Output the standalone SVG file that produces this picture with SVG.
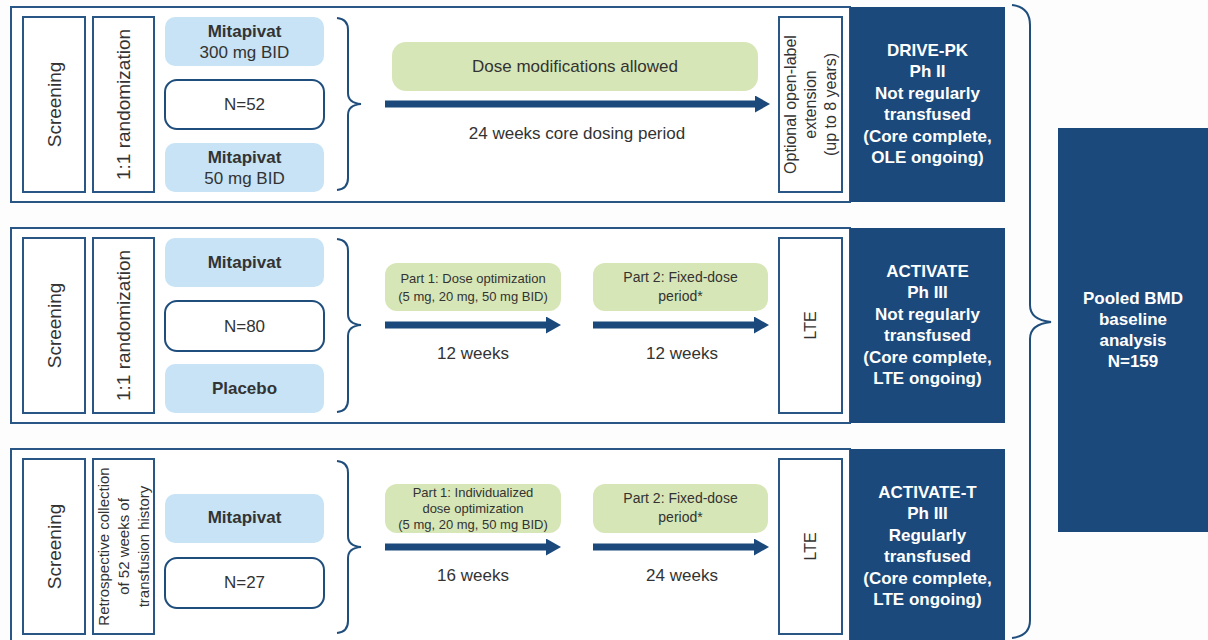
<svg xmlns="http://www.w3.org/2000/svg" width="1208" height="640" viewBox="0 0 1208 640">
<style>
.bg{fill:#fdfdfd}
.frame{fill:#ffffff;stroke:#2a5686;stroke-width:2}
.vbox{fill:#ffffff;stroke:#2a5686;stroke-width:2}
.arm{fill:#c7e3f5}
.nbox{fill:#ffffff;stroke:#1f4e7d;stroke-width:2}
.green{fill:#d7e6b6}
.dark{fill:#1b497b}
.brace{fill:none;stroke:#1f4e7d;stroke-width:2}
.arrow{stroke:#1b497b;stroke-width:7}
.t{font-family:"Liberation Sans",Arial,sans-serif;fill:#333333;text-anchor:middle;dominant-baseline:central}
.t19{font-size:19px}
.t17{font-size:17px}
.t16{font-size:16px}
.t15{font-size:15px}
.t14{font-size:14px}
.t13{font-size:13px}
.b{font-weight:bold}
.w{font-family:"Liberation Sans",Arial,sans-serif;fill:#ffffff;font-weight:bold;font-size:17px;text-anchor:middle;dominant-baseline:central}
</style>
<defs>
<marker id="ah" markerWidth="15" markerHeight="17" refX="0" refY="8.5" orient="auto" markerUnits="userSpaceOnUse">
<path d="M0,0 L15,8.5 L0,17 Z" fill="#1b497b"/>
</marker>
</defs>
<rect class="bg" x="0" y="0" width="1208" height="640"/>

<!-- Row 1: DRIVE-PK -->
<g id="row1-frame"><rect class="frame" x="11" y="7" width="839" height="195"/></g>
<g id="row1-screening"><rect class="vbox" x="23" y="17" width="62" height="175"/><text class="t t19" transform="translate(54,104.5) rotate(-90)">Screening</text></g>
<g id="row1-randomization"><rect class="vbox" x="93" y="17" width="61" height="175"/><text class="t t19" transform="translate(123.5,104.5) rotate(-90)">1:1 randomization</text></g>
<g id="row1-arm300"><rect class="arm" x="165" y="17" width="159" height="49" rx="10"/><text class="t t17 b" x="244.5" y="31">Mitapivat</text><text class="t t17" x="244.5" y="52">300 mg BID</text></g>
<g id="row1-n"><rect class="nbox" x="165" y="80" width="159" height="49" rx="12"/><text class="t t17" x="244.5" y="104.5">N=52</text></g>
<g id="row1-arm50"><rect class="arm" x="165" y="143" width="159" height="49" rx="10"/><text class="t t17 b" x="244.5" y="157">Mitapivat</text><text class="t t17" x="244.5" y="178">50 mg BID</text></g>
<g id="row1-dosemod"><rect class="green" x="392" y="42" width="366" height="49" rx="14"/><text class="t t17" x="575" y="66">Dose modifications allowed</text></g>
<g id="row1-period"><text class="t t17" x="577" y="133">24 weeks core dosing period</text></g>
<g id="row1-ole"><rect class="vbox" x="779" y="17" width="63" height="175"/>
<text class="t t16" transform="translate(790,104.5) rotate(-90)">Optional open-label</text>
<text class="t t16" transform="translate(810,104.5) rotate(-90)">extension</text>
<text class="t t16" transform="translate(830,104.5) rotate(-90)">(up to 8 years)</text></g>
<g id="row1-study"><rect class="dark" x="850" y="7" width="155" height="195"/>
<text class="w" x="927.5" y="50">DRIVE-PK</text>
<text class="w" x="927.5" y="71.5">Ph II</text>
<text class="w" x="927.5" y="93">Not regularly</text>
<text class="w" x="927.5" y="114.5">transfused</text>
<text class="w" x="927.5" y="136">(Core complete,</text>
<text class="w" x="927.5" y="157.5">OLE ongoing)</text></g>

<!-- Row 2: ACTIVATE -->
<g id="row2-frame"><rect class="frame" x="11" y="228" width="839" height="195"/></g>
<g id="row2-screening"><rect class="vbox" x="23" y="238" width="62" height="175"/><text class="t t19" transform="translate(54,325.5) rotate(-90)">Screening</text></g>
<g id="row2-randomization"><rect class="vbox" x="93" y="238" width="61" height="175"/><text class="t t19" transform="translate(123.5,325.5) rotate(-90)">1:1 randomization</text></g>
<g id="row2-mitapivat"><rect class="arm" x="165" y="238" width="159" height="49" rx="10"/><text class="t t17 b" x="244.5" y="262">Mitapivat</text></g>
<g id="row2-n"><rect class="nbox" x="165" y="301" width="159" height="50" rx="12"/><text class="t t17" x="244.5" y="326">N=80</text></g>
<g id="row2-placebo"><rect class="arm" x="165" y="364" width="159" height="49" rx="10"/><text class="t t17 b" x="244.5" y="388.5">Placebo</text></g>
<g id="row2-part1"><rect class="green" x="385" y="263" width="176" height="48" rx="12"/><text class="t t13" x="473" y="278">Part 1: Dose optimization</text><text class="t t13" x="473" y="296">(5 mg, 20 mg, 50 mg BID)</text></g>
<g id="row2-part2"><rect class="green" x="593" y="263" width="175" height="48" rx="12"/><text class="t t14" x="680.5" y="277">Part 2: Fixed-dose</text><text class="t t14" x="680.5" y="296">period*</text></g>
<g id="row2-weeks"><text class="t t17" x="473" y="353">12 weeks</text><text class="t t17" x="682" y="353">12 weeks</text></g>
<g id="row2-lte"><rect class="vbox" x="779" y="238" width="63" height="175"/><text class="t t16" transform="translate(810.5,325.5) rotate(-90)">LTE</text></g>
<g id="row2-study"><rect class="dark" x="850" y="228" width="155" height="195"/>
<text class="w" x="927.5" y="271">ACTIVATE</text>
<text class="w" x="927.5" y="292.5">Ph III</text>
<text class="w" x="927.5" y="314">Not regularly</text>
<text class="w" x="927.5" y="335.5">transfused</text>
<text class="w" x="927.5" y="357">(Core complete,</text>
<text class="w" x="927.5" y="378.5">LTE ongoing)</text></g>

<!-- Row 3: ACTIVATE-T -->
<g id="row3-frame"><rect class="frame" x="11" y="449" width="839" height="195"/></g>
<g id="row3-screening"><rect class="vbox" x="23" y="459" width="62" height="175"/><text class="t t19" transform="translate(54,546.5) rotate(-90)">Screening</text></g>
<g id="row3-retro"><rect class="vbox" x="93" y="459" width="61" height="175"/>
<text class="t t15" transform="translate(103.5,546.5) rotate(-90)">Retrospective collection</text>
<text class="t t15" transform="translate(123.5,546.5) rotate(-90)">of 52 weeks of</text>
<text class="t t15" transform="translate(143.5,546.5) rotate(-90)">transfusion history</text></g>
<g id="row3-mitapivat"><rect class="arm" x="165" y="494" width="159" height="49" rx="10"/><text class="t t17 b" x="244.5" y="517.5">Mitapivat</text></g>
<g id="row3-n"><rect class="nbox" x="165" y="558" width="159" height="50" rx="12"/><text class="t t17" x="244.5" y="582">N=27</text></g>
<g id="row3-part1"><rect class="green" x="385" y="484" width="176" height="49" rx="12"/><text class="t t13" x="473" y="492">Part 1: Individualized</text><text class="t t13" x="473" y="508">dose optimization</text><text class="t t13" x="473" y="524">(5 mg, 20 mg, 50 mg BID)</text></g>
<g id="row3-part2"><rect class="green" x="593" y="484" width="175" height="49" rx="12"/><text class="t t14" x="680.5" y="498">Part 2: Fixed-dose</text><text class="t t14" x="680.5" y="517">period*</text></g>
<g id="row3-weeks"><text class="t t17" x="473" y="575">16 weeks</text><text class="t t17" x="682" y="575">24 weeks</text></g>
<g id="row3-lte"><rect class="vbox" x="779" y="459" width="63" height="175"/><text class="t t16" transform="translate(810.5,546.5) rotate(-90)">LTE</text></g>
<g id="row3-study"><rect class="dark" x="850" y="449" width="155" height="195"/>
<text class="w" x="927.5" y="492">ACTIVATE-T</text>
<text class="w" x="927.5" y="513.5">Ph III</text>
<text class="w" x="927.5" y="535">Regularly</text>
<text class="w" x="927.5" y="556.5">transfused</text>
<text class="w" x="927.5" y="578">(Core complete,</text>
<text class="w" x="927.5" y="599.5">LTE ongoing)</text></g>

<!-- Pooled -->
<g id="pooled"><rect class="dark" x="1058" y="128" width="150" height="404"/>
<text class="w" x="1133" y="298">Pooled BMD</text>
<text class="w" x="1133" y="319">baseline</text>
<text class="w" x="1133" y="340">analysis</text>
<text class="w" x="1133" y="361">N=159</text></g>

<!-- Connectors -->
<g id="connectors">
<path class="brace" d="M337,18 Q348,19 348,30 L348,93 Q348,103 361,104 Q348,105 348,115 L348,178 Q348,189 337,190"/>
<path class="brace" d="M337,239 Q348,240 348,251 L348,314 Q348,324 361,325 Q348,326 348,336 L348,400 Q348,411 337,412"/>
<path class="brace" d="M337,461 Q348,462 348,473 L348,536 Q348,546 361,547 Q348,548 348,558 L348,621 Q348,632 337,633"/>
<path class="brace" d="M1012,5 Q1030,7 1030,25 L1030,305 Q1030,320 1051,322 Q1030,324 1030,339 L1030,620 Q1030,636 1012,638"/>
<line class="arrow" x1="385" y1="104" x2="755" y2="104" marker-end="url(#ah)"/>
<line class="arrow" x1="385" y1="325" x2="546" y2="325" marker-end="url(#ah)"/>
<line class="arrow" x1="593" y1="325" x2="754" y2="325" marker-end="url(#ah)"/>
<line class="arrow" x1="385" y1="547" x2="546" y2="547" marker-end="url(#ah)"/>
<line class="arrow" x1="593" y1="547" x2="754" y2="547" marker-end="url(#ah)"/>
</g>
</svg>
